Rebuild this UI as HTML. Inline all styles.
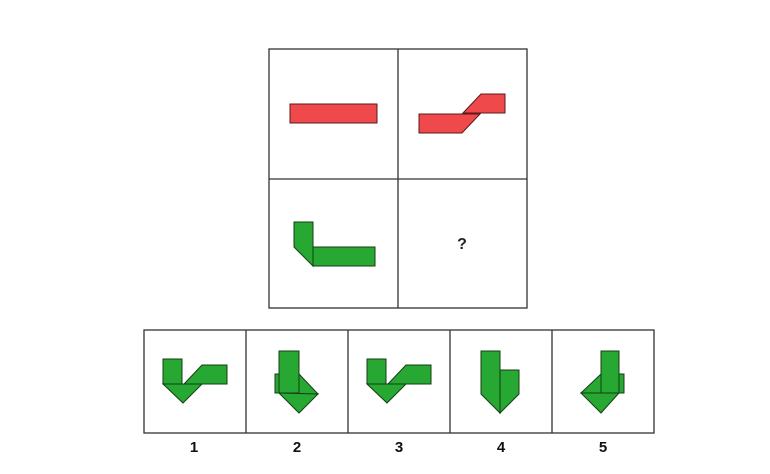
<!DOCTYPE html>
<html><head><meta charset="utf-8"><style>
html,body{margin:0;padding:0;background:#fff;}
svg{display:block;}
text{font-family:"Liberation Sans",sans-serif;font-weight:bold;}
</style></head><body>
<svg width="770" height="474" viewBox="0 0 770 474">
<g fill="none" stroke="#333" stroke-width="1.3">
<rect x="269" y="49" width="258" height="259"/>
<line x1="398" y1="49" x2="398" y2="308"/>
<line x1="269" y1="179" x2="527" y2="179"/>
</g>
<g stroke="#5a1a1a" stroke-width="1" fill="#f0494b">
<rect x="290" y="104" width="87" height="19"/>
<polygon points="419,114 480,114 462,133 419,133"/>
<polygon points="463,113 481,94 505,94 505,113"/>
</g>
<g stroke="#143d14" stroke-width="1" fill="#27a832">
<polygon points="294,222 313,222 313,266 294,247"/>
<rect x="313" y="247" width="62" height="19"/>
</g>
<text x="462" y="249" font-size="16" text-anchor="middle" fill="#222">?</text>
<g fill="none" stroke="#333" stroke-width="1.3">
<rect x="144" y="330" width="510" height="103"/>
<line x1="246" y1="330" x2="246" y2="433"/>
<line x1="348" y1="330" x2="348" y2="433"/>
<line x1="450" y1="330" x2="450" y2="433"/>
<line x1="552" y1="330" x2="552" y2="433"/>
</g>
<g stroke="#143d14" stroke-width="1" fill="#27a832">
<g>
<rect x="163" y="359" width="19" height="25"/>
<polygon points="163,384 202,384 183,403"/>
<polygon points="184,384 202,365 227,365 227,384"/>
</g>
<g>
<rect x="275" y="374" width="4" height="19"/>
<polygon points="299,374 318,394 299,394"/>
<polygon points="279,393 318,394 299,413"/>
<rect x="279" y="351" width="20" height="42"/>
</g>
<g transform="translate(204,0)">
<rect x="163" y="359" width="19" height="25"/>
<polygon points="163,384 202,384 183,403"/>
<polygon points="184,384 202,365 227,365 227,384"/>
</g>
<g>
<polygon points="481,351 500,351 500,413 481,394"/>
<polygon points="500,370 519,370 519,394 500,413"/>
</g>
<g>
<rect x="619" y="374" width="5" height="19"/>
<polygon points="581,393 601,374 601,393"/>
<polygon points="581,393 619,393 601,413"/>
<rect x="601" y="351" width="18" height="42"/>
</g>
</g>
<g font-size="15" fill="#111" text-anchor="middle">
<text x="194" y="452">1</text>
<text x="297" y="452">2</text>
<text x="399" y="452">3</text>
<text x="501" y="452">4</text>
<text x="603" y="452">5</text>
</g>
</svg>
</body></html>
